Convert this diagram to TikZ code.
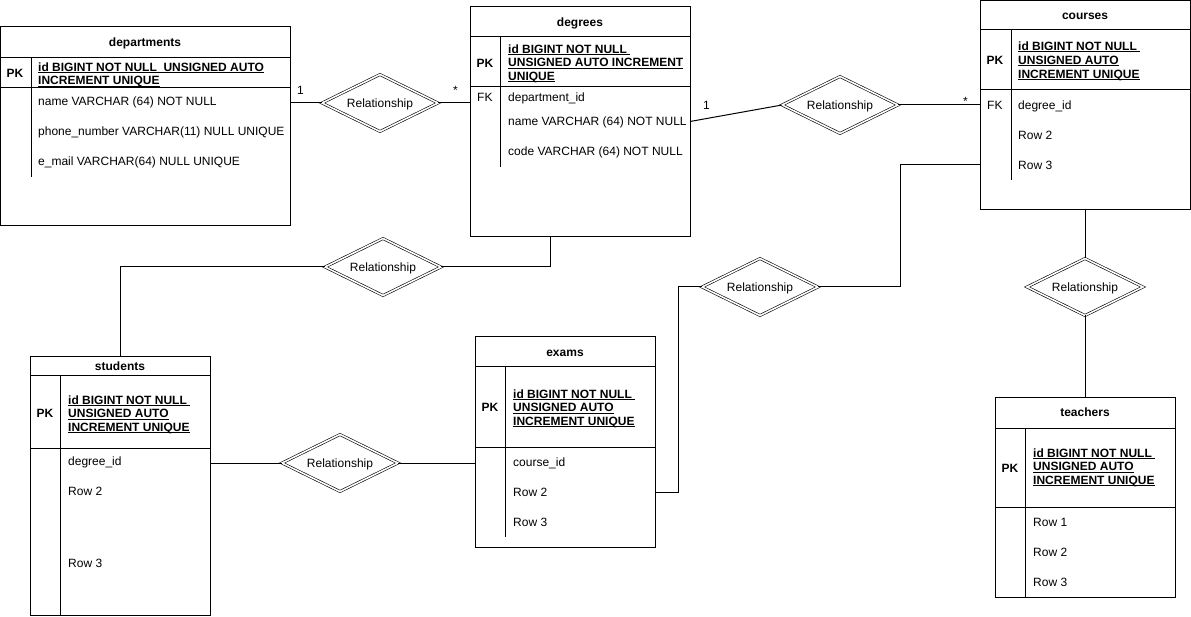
\documentclass[tikz,border=0pt]{standalone}
\usepackage{fontspec}
\setmainfont{Liberation Sans}
\usetikzlibrary{shapes.geometric}
\newcommand\ulx[1]{\setbox0\hbox{#1}\rlap{\rule[-1.8pt]{\wd0}{0.7pt}}\box0}
\begin{document}
\begin{tikzpicture}[x=1pt,y=-1pt,
  tbl/.style={draw, line width=1pt, rectangle, inner sep=0pt, outer sep=0pt, anchor=north west},
  sep/.style={line width=1pt},
  conn/.style={line width=1pt},
  txt/.style={anchor=west, inner sep=0pt, text height=8.6pt, text depth=0pt, font=\fontsize{12}{14}\selectfont},
  hdr/.style={anchor=center, inner sep=0pt, text height=8.6pt, text depth=0pt, font=\fontsize{12}{14}\selectfont\bfseries},
  pkl/.style={txt, font=\fontsize{12}{14}\selectfont\bfseries},
  rel/.style={diamond, aspect=2, draw, double, line width=0.6pt, double distance=1.6pt,
    minimum width=116pt, minimum height=57pt, inner sep=0pt, outer sep=0pt,
    text height=8.6pt, text depth=0pt, font=\fontsize{12}{14}\selectfont}
]
\useasboundingbox (0,0) rectangle (1191,617);

% ---------- departments ----------
\node[tbl, minimum width=290pt, minimum height=199pt] (dep) at (0,27) {};
\draw[sep] (0,58) -- (290,58);
\draw[sep] (0,88) -- (290,88);
\draw[sep] (31,58) -- (31,177);
\node[hdr] (depH) at (145,42) {departments};
\node[hdr] (depPK) at (15,73) {PK};
\node[pkl] (depP1) at (38,67) {\ulx{id BIGINT NOT NULL\ \ UNSIGNED AUTO}};
\node[pkl] (depP2) at (38,80.5) {\ulx{INCREMENT UNIQUE}};
\node[txt] (depR1) at (38,101.5) {name VARCHAR (64) NOT NULL};
\node[txt] (depR2) at (38,131.5) {phone\_number VARCHAR(11) NULL UNIQUE};
\node[txt] (depR3) at (38,161.5) {e\_mail VARCHAR(64) NULL UNIQUE};

% ---------- degrees ----------
\node[tbl, minimum width=220pt, minimum height=230pt] (deg) at (470,7) {};
\draw[sep] (470,37) -- (690,37);
\draw[sep] (470,87) -- (690,87);
\draw[sep] (500,37) -- (500,167);
\node[hdr] (degH) at (580,22) {degrees};
\node[hdr] (degPK) at (485,63.5) {PK};
\node[txt] (degFK) at (477,97) {FK};
\node[pkl] (degP1) at (508,49) {\ulx{id BIGINT NOT NULL\ }};
\node[pkl] (degP2) at (508,62.5) {\ulx{UNSIGNED AUTO INCREMENT}};
\node[pkl] (degP3) at (508,76) {\ulx{UNIQUE}};
\node[txt] (degR1) at (508,97) {department\_id};
\node[txt] (degR2) at (508,121.5) {name VARCHAR (64) NOT NULL};
\node[txt] (degR3) at (508,151.5) {code VARCHAR (64) NOT NULL};

% ---------- courses ----------
\node[tbl, minimum width=210pt, minimum height=209pt] (crs) at (980,1) {};
\draw[sep] (980,30) -- (1190,30);
\draw[sep] (980,90) -- (1190,90);
\draw[sep] (1011,30) -- (1011,180);
\node[hdr] (crsH) at (1085,15.5) {courses};
\node[hdr] (crsPK) at (995,60) {PK};
\node[txt] (crsFK) at (987,105.5) {FK};
\node[pkl] (crsP1) at (1018,46) {\ulx{id BIGINT NOT NULL\ }};
\node[pkl] (crsP2) at (1018,60) {\ulx{UNSIGNED AUTO}};
\node[pkl] (crsP3) at (1018,74) {\ulx{INCREMENT UNIQUE}};
\node[txt] (crsR1) at (1018,105.5) {degree\_id};
\node[txt] (crsR2) at (1018,135.5) {Row 2};
\node[txt] (crsR3) at (1018,165) {Row 3};

% ---------- students ----------
\node[tbl, minimum width=180pt, minimum height=258.5pt] (stu) at (30,357) {};
\draw[sep] (30,376) -- (210,376);
\draw[sep] (30,448) -- (210,448);
\draw[sep] (60,376) -- (60,615.5);
\node[hdr] (stuH) at (120,366.5) {students};
\node[hdr] (stuPK) at (45,413) {PK};
\node[pkl] (stuP1) at (68,400) {\ulx{id BIGINT NOT NULL\ }};
\node[pkl] (stuP2) at (68,413.5) {\ulx{UNSIGNED AUTO}};
\node[pkl] (stuP3) at (68,427) {\ulx{INCREMENT UNIQUE}};
\node[txt] (stuR1) at (68,461.5) {degree\_id};
\node[txt] (stuR2) at (68,491.5) {Row 2};
\node[txt] (stuR3) at (68,563) {Row 3};

% ---------- exams ----------
\node[tbl, minimum width=180pt, minimum height=210pt] (exa) at (475,337) {};
\draw[sep] (475,367) -- (655,367);
\draw[sep] (475,447) -- (655,447);
\draw[sep] (505,367) -- (505,537);
\node[hdr] (exaH) at (565,352) {exams};
\node[hdr] (exaPK) at (490,407) {PK};
\node[pkl] (exaP1) at (513,394) {\ulx{id BIGINT NOT NULL\ }};
\node[pkl] (exaP2) at (513,407.5) {\ulx{UNSIGNED AUTO}};
\node[pkl] (exaP3) at (513,421) {\ulx{INCREMENT UNIQUE}};
\node[txt] (exaR1) at (513,462) {course\_id};
\node[txt] (exaR2) at (513,492.5) {Row 2};
\node[txt] (exaR3) at (513,522) {Row 3};

% ---------- teachers ----------
\node[tbl, minimum width=180pt, minimum height=200pt] (tea) at (995,397) {};
\draw[sep] (995,428) -- (1175,428);
\draw[sep] (995,507) -- (1175,507);
\draw[sep] (1025,428) -- (1025,597);
\node[hdr] (teaH) at (1085,412) {teachers};
\node[hdr] (teaPK) at (1010,468) {PK};
\node[pkl] (teaP1) at (1033,453) {\ulx{id BIGINT NOT NULL\ }};
\node[pkl] (teaP2) at (1033,466.5) {\ulx{UNSIGNED AUTO}};
\node[pkl] (teaP3) at (1033,480) {\ulx{INCREMENT UNIQUE}};
\node[txt] (teaR1) at (1033,522) {Row 1};
\node[txt] (teaR2) at (1033,552) {Row 2};
\node[txt] (teaR3) at (1033,582) {Row 3};

% ---------- relationships ----------
\node[rel] (d1) at (380,103) {Relationship};
\node[rel] (d2) at (840,105) {Relationship};
\node[rel] (d3) at (760,287) {Relationship};
\node[rel] (d4) at (1085,287) {Relationship};
\node[rel] (d5) at (383,267) {Relationship};
\node[rel] (d6) at (340,463) {Relationship};

% ---------- connectors ----------
\coordinate (k1) at (900,287);
\coordinate (k2) at (678,492);
\coordinate (k3) at (550,237);

\draw[conn] (dep.east |- d1.west) -- (d1.west);
\draw[conn] (d1.east) -- (deg.west |- d1.east);
\draw[conn] (deg.east |- degR2) -- (d2.west);
\draw[conn] (d2.east) -- (crs.west |- d2.east);
\draw[conn] (crs.west |- crsR3) -| (k1) -- (d3.east);
\draw[conn] (d3.west) -| (k2) -- (exa.east |- k2);
\draw[conn] (crs.south) -- (d4.north);
\draw[conn] (d4.south) -- (tea.north);
\draw[conn] (stu.north) |- (d5.west);
\draw[conn] (d5.east) -| (k3);
\draw[conn] (stu.east |- d6.west) -- (d6.west);
\draw[conn] (d6.east) -- (exa.west |- d6.east);

\node[txt] (l1) at (297,90) {1};
\node[txt] (l2) at (453,90) {*};
\node[txt] (l3) at (703,105) {1};
\node[txt] (l4) at (963,101) {*};
\end{tikzpicture}
\end{document}
